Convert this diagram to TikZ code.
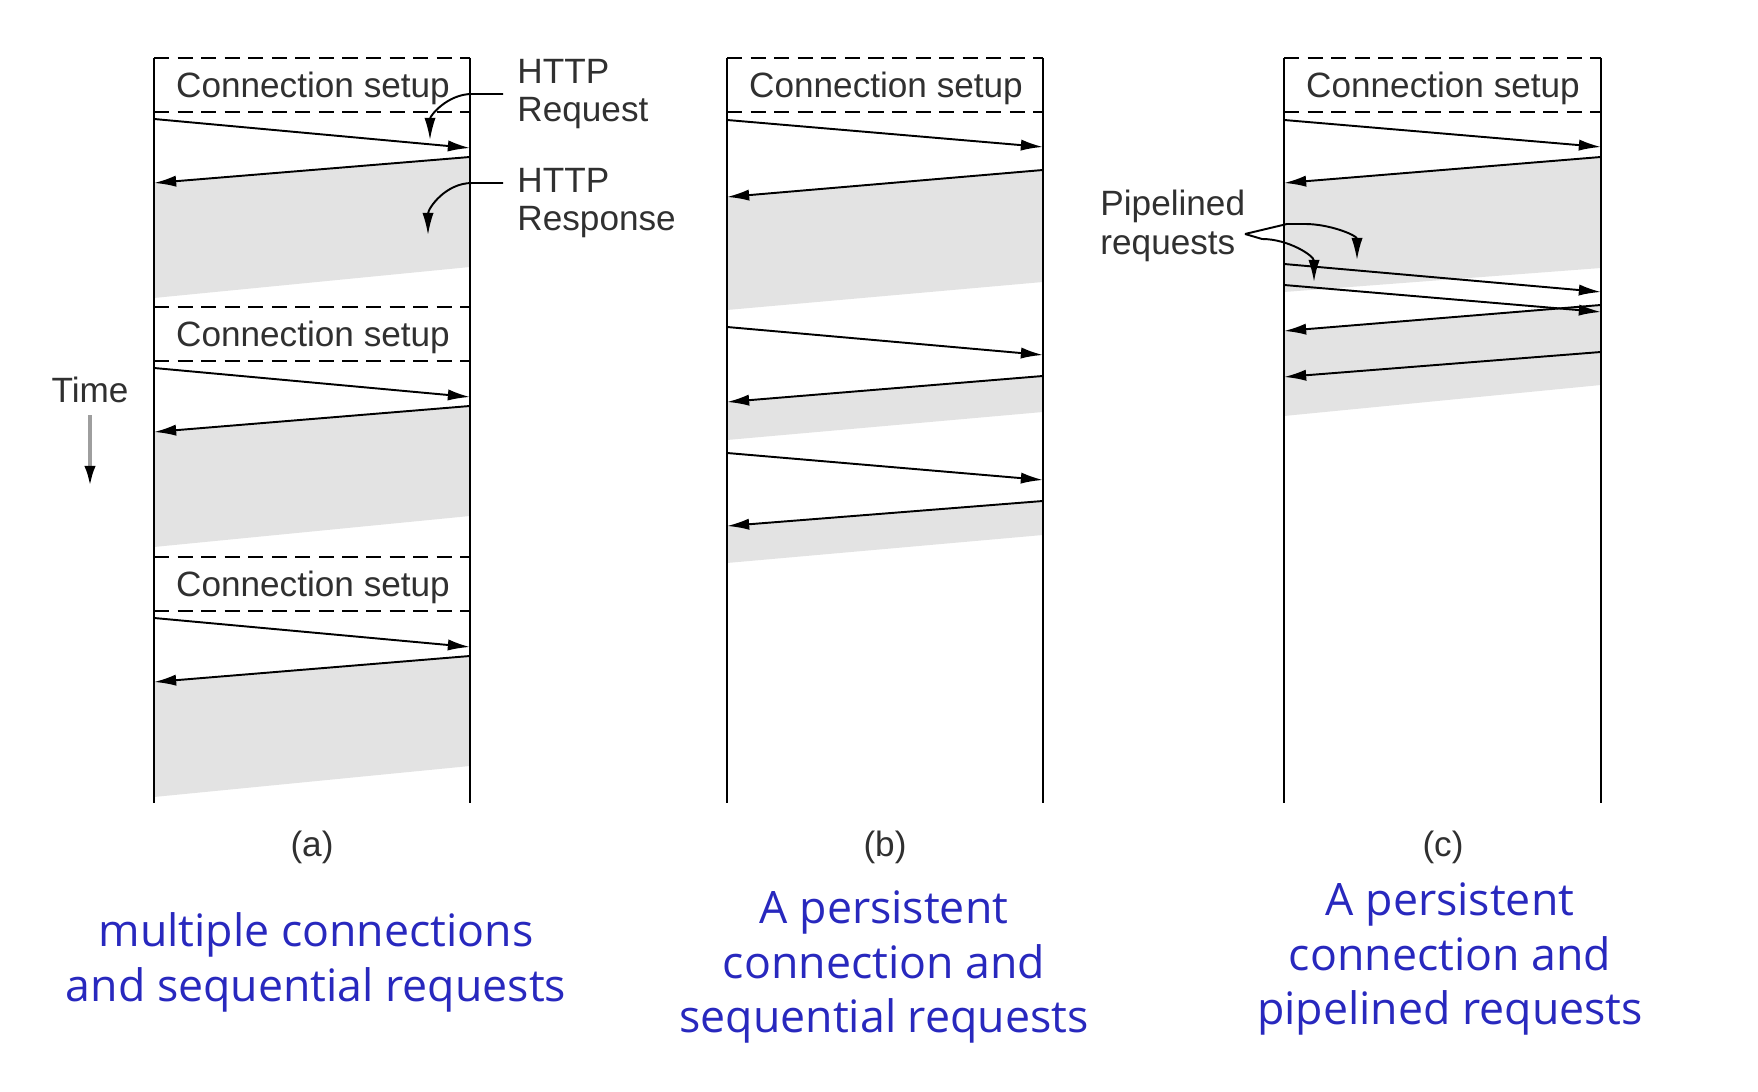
\documentclass[tikz,border=0pt]{standalone}
\usepackage{fontspec}
\setmainfont{Liberation Sans}
\newfontfamily\notefont{Open Sans}
\usepackage{xcolor}
\usetikzlibrary{arrows.meta,positioning}
\definecolor{shadegray}{RGB}{227,227,227}
\definecolor{textgray}{RGB}{48,48,48}
\definecolor{noteblue}{RGB}{40,40,190}

\begin{document}
\begin{tikzpicture}[
    x=0.01cm, y=-0.01cm,
    every node/.style={font=\fontsize{10}{11}\selectfont, text=textgray},
    life/.style={line width=0.75pt},
    setup/.style={line width=0.6pt, dash pattern=on 4.3pt off 2.4pt},
    msg/.style={line width=0.55pt, -{Latex[length=6.3pt,width=3.2pt]}},
    lead/.style={line width=0.55pt, -{Latex[length=6.3pt,width=3.2pt]}},
    busy/.style={fill=shadegray},
    note/.style={font=\notefont\fontsize{12.7}{15.6}\selectfont, text=noteblue, align=center, inner sep=0pt}
  ]
    \useasboundingbox (0,0) rectangle (1758,1092);

    %------------------ Panel (a): multiple connections ------------------%
    \begin{scope}[shift={(154,0)}]
      \foreach \t [count=\k] in {58,307,557} {
        \coordinate (a-rq\k-s) at (0,\t+61);
        \coordinate (a-rq\k-e) at (316,\t+90);
        \coordinate (a-rs\k-s) at (316,\t+99);
        \coordinate (a-rs\k-e) at (0,\t+125);
        % Server busy
        \fill[busy] (a-rs\k-s) -- (a-rs\k-e) -- (0,\t+240) -- (316,\t+209) -- cycle;
        % Setup
        \draw[setup] (0,\t) -- (316,\t) (0,\t+54) -- (316,\t+54);
        \node (a-cs\k) at (159,\t+30) {Connection setup};
        % Request and response
        \draw[msg] (a-rq\k-s) -- (a-rq\k-e);
        \draw[msg] (a-rs\k-s) -- (a-rs\k-e);
      }
      % Lifelines
      \draw[life] (0,58) -- (0,803);
      \draw[life] (316,58) -- (316,803);
      \node (a-cap) at (158,847) {(a)};
    \end{scope}

    % Labels of panel (a)
    \node[align=left, anchor=west] (req-lbl) at (505,94) {HTTP\\Request};
    \node[align=left, anchor=west] (rsp-lbl) at (505,203) {HTTP\\Response};
    \coordinate (req-tip) at (430,140);
    \coordinate (rsp-tip) at (428,235);
    \draw[lead] (503,94) -- (472,94) to[out=180,in=90] (req-tip);
    \draw[lead] (503,183) -- (472,183) to[out=180,in=90] (rsp-tip);

    % Time
    \node (time) at (90,390) {Time};
    \coordinate (time-end) at (90,487);
    \draw[line width=1.1pt, black!38, -{Latex[length=6pt,width=3.2pt,color=black]}] (time.south) -- (time-end);

    %------------------ Panel (b): persistent, sequential ----------------%
    \begin{scope}[shift={(727,0)}]
      \foreach \qs/\qe/\ss/\se/\gr/\gl [count=\k] in
          {120/147/170/197/282/310, 327/355/376/402/412/440, 453/480/501/526/535/563} {
        \coordinate (b-rq\k-s) at (0,\qs);
        \coordinate (b-rq\k-e) at (316,\qe);
        \coordinate (b-rs\k-s) at (316,\ss);
        \coordinate (b-rs\k-e) at (0,\se);
        \fill[busy] (b-rs\k-s) -- (b-rs\k-e) -- (0,\gl) -- (316,\gr) -- cycle;
        \draw[msg] (b-rq\k-s) -- (b-rq\k-e);
        \draw[msg] (b-rs\k-s) -- (b-rs\k-e);
      }
      \draw[setup] (0,58) -- (316,58) (0,112) -- (316,112);
      \node (b-cs) at (159,88) {Connection setup};
      \draw[life] (0,58) -- (0,803);
      \draw[life] (316,58) -- (316,803);
      \node (b-cap) at (158,847) {(b)};
    \end{scope}

    %------------------ Panel (c): persistent, pipelined -----------------%
    \begin{scope}[shift={(1284,0)}]
      \coordinate (c-rq1-s) at (0,120);   \coordinate (c-rq1-e) at (317,147);
      \coordinate (c-rs1-s) at (317,157); \coordinate (c-rs1-e) at (0,183);
      \coordinate (c-pq1-s) at (0,264);   \coordinate (c-pq1-e) at (317,292);
      \coordinate (c-pq2-s) at (0,285);   \coordinate (c-pq2-e) at (317,312);
      \coordinate (c-rs2-s) at (317,305); \coordinate (c-rs2-e) at (0,331);
      \coordinate (c-rs3-s) at (317,352); \coordinate (c-rs3-e) at (0,377);
      % Server busy
      \fill[busy] (c-rs1-s) -- (c-rs1-e) -- (0,292) -- (317,268) -- cycle;
      \fill[busy] (c-rs2-s) -- (c-rs2-e) -- (0,416) -- (317,385) -- cycle;
      % Setup
      \draw[setup] (0,58) -- (317,58) (0,112) -- (317,112);
      \node (c-cs) at (159,88) {Connection setup};
      % Messages
      \draw[msg] (c-rq1-s) -- (c-rq1-e);
      \draw[msg] (c-rs1-s) -- (c-rs1-e);
      \draw[msg] (c-pq1-s) -- (c-pq1-e);
      \draw[msg] (c-pq2-s) -- (c-pq2-e);
      \draw[msg] (c-rs2-s) -- (c-rs2-e);
      \draw[msg] (c-rs3-s) -- (c-rs3-e);
      \draw[life] (0,58) -- (0,803);
      \draw[life] (317,58) -- (317,803);
      \node (c-cap) at (159,847) {(c)};
    \end{scope}

    % Labels of panel (c)
    \node[align=left, anchor=west] (pipe-lbl) at (1088,226) {Pipelined\\requests};
    \coordinate (pipe-from) at (1245,234);
    \coordinate (pipe-tip1) at (1357,260);
    \coordinate (pipe-tip2) at (1314,282);
    \draw[lead] (pipe-from) -- (1287,224) -- (1305,224) to[out=0,in=90] (pipe-tip1);
    \draw[lead] (pipe-from) -- (1262,239) to[out=0,in=90] (pipe-tip2);

    %------------------ Notes ---------------------------------------------%
    \node[note] (a-note) at (316,962) {multiple connections\\and sequential requests};
    \node[note] (b-note) at (884,967) {A persistent\\connection and\\sequential requests};
    \node[note] (c-note) at (1450,959) {A persistent\\connection and\\pipelined requests};

  \end{tikzpicture}
\end{document}
